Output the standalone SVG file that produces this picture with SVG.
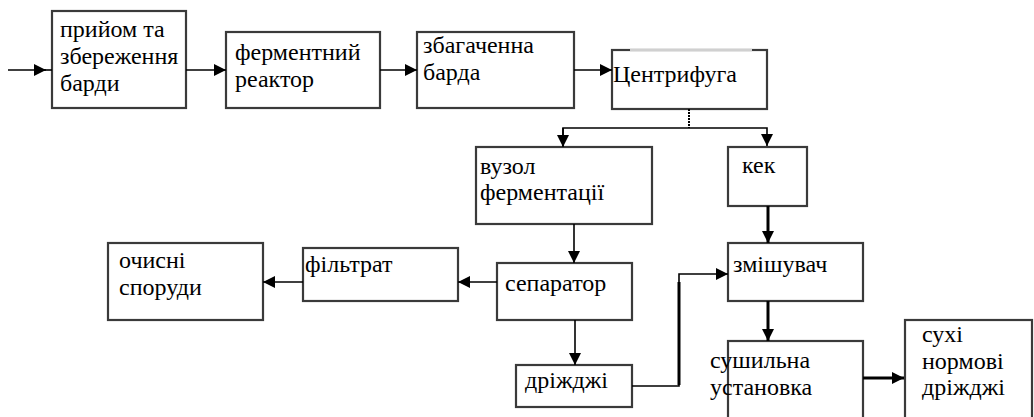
<svg xmlns="http://www.w3.org/2000/svg" width="1034" height="417" viewBox="0 0 1034 417">
<style>
.box{fill:#fff;stroke:#3a3a3a;stroke-width:2.2}
.t{font-family:'Liberation Serif','DejaVu Serif',serif;font-size:24px;fill:#000}
.c{fill:none;stroke:#000;stroke-width:1.6}
.k{fill:none;stroke:#000;stroke-width:3}
</style>
<defs>
<marker id="a" markerUnits="userSpaceOnUse" markerWidth="13" markerHeight="12" refX="12" refY="6" orient="auto">
<path d="M0,0 L12,6 L0,12 z" fill="#000"/>
</marker>
</defs>
<g id="n1"><rect class="box" x="52" y="11" width="134" height="97"/><text class="t" x="60" y="37">прийом та</text><text class="t" x="60" y="64">збереження</text><text class="t" x="60" y="91">барди</text></g>
<g id="n2"><rect class="box" x="226" y="32" width="154" height="76"/><text class="t" x="235" y="60">ферментний</text><text class="t" x="235" y="87">реактор</text></g>
<g id="n3"><rect class="box" x="417" y="32" width="157" height="76"/><text class="t" x="423" y="53">збагаченна</text><text class="t" x="423" y="80">барда</text></g>
<g id="n4"><rect class="box" x="612" y="50" width="155" height="59"/><line x1="630" y1="50" x2="752" y2="50" stroke="#d0d0d0" stroke-width="2.4"/><text class="t" x="613" y="82">Центрифуга</text></g>
<g id="n5"><rect class="box" x="476" y="147" width="176" height="77"/><text class="t" x="480" y="174">вузол</text><text class="t" x="480" y="200">ферментації</text></g>
<g id="n6"><rect class="box" x="728" y="147" width="79" height="59"/><text class="t" x="742" y="173">кек</text></g>
<g id="n7"><rect class="box" x="108" y="243" width="155" height="77"/><text class="t" x="119" y="268">очисні</text><text class="t" x="119" y="295">споруди</text></g>
<g id="n8"><rect class="box" x="303" y="248" width="155" height="53"/><text class="t" x="305" y="272">фільтрат</text></g>
<g id="n9"><rect class="box" x="497" y="263" width="135" height="57"/><text class="t" x="505" y="291">сепаратор</text></g>
<g id="n10"><rect class="box" x="516" y="365" width="116" height="42"/><text class="t" x="525" y="388">дріжджі</text></g>
<g id="n11"><rect class="box" x="728" y="243" width="135" height="58"/><text class="t" x="733" y="272">змішувач</text></g>
<g id="n12"><rect class="box" x="728" y="341" width="135" height="80"/><text class="t" x="710" y="368">сушильна</text><text class="t" x="710" y="395">установка</text></g>
<g id="n13"><rect class="box" x="905" y="320" width="127" height="101"/><text class="t" x="922" y="342">сухі</text><text class="t" x="922" y="369">нормові</text><text class="t" x="922" y="395">дріжджі</text></g>
<g id="connectors">
<line class="c" x1="8" y1="70" x2="46" y2="70" marker-end="url(#a)"/>
<line class="c" x1="44" y1="70" x2="52" y2="70"/>
<line class="c" x1="186" y1="70" x2="226" y2="70" marker-end="url(#a)"/>
<line class="c" x1="380" y1="70" x2="417" y2="70" marker-end="url(#a)"/>
<line class="c" x1="574" y1="70" x2="612" y2="70" marker-end="url(#a)"/>
<line x1="689" y1="109" x2="689" y2="128" stroke="#000" stroke-width="2" stroke-dasharray="2,1"/>
<polyline class="c" points="563,146 563,128 767,128 767,146" marker-end="url(#a)"/>
<line class="c" x1="563" y1="128" x2="563" y2="147" marker-end="url(#a)"/>
<line class="c" x1="574" y1="224" x2="574" y2="263" marker-end="url(#a)"/>
<line class="k" x1="768" y1="206" x2="768" y2="243" marker-end="url(#a)"/>
<line class="c" x1="497" y1="282" x2="458" y2="282" marker-end="url(#a)"/>
<line class="c" x1="303" y1="282" x2="263" y2="282" marker-end="url(#a)"/>
<line class="c" x1="575" y1="320" x2="575" y2="365" marker-end="url(#a)"/>
<polyline class="c" points="632,386 679,386 679,274 728,274" marker-end="url(#a)"/>
<line x1="679" y1="385" x2="679" y2="282" stroke="#000" stroke-width="3"/>
<line class="k" x1="768" y1="301" x2="768" y2="341" marker-end="url(#a)"/>
<line class="k" x1="863" y1="378" x2="904" y2="378" marker-end="url(#a)"/>
</g>
</svg>
